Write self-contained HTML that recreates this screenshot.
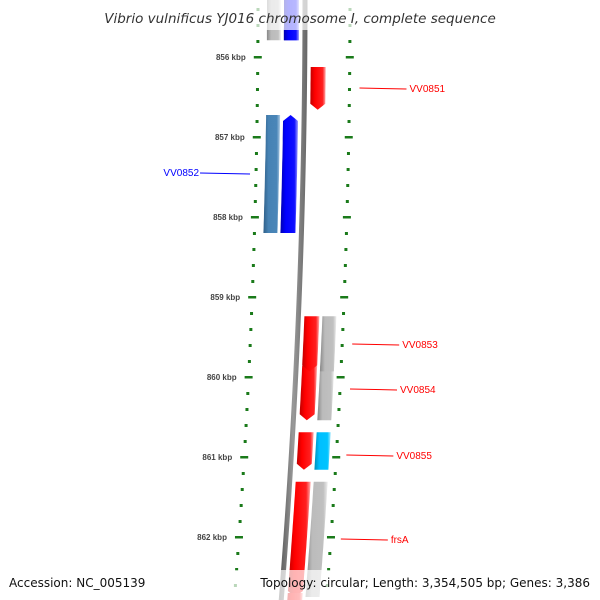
<!DOCTYPE html>
<html><head><meta charset="utf-8"><style>
html,body{margin:0;background:#fff;overflow:hidden;width:600px;height:600px;}
svg{display:block;font-family:"Liberation Sans",sans-serif;overflow:hidden;}
</style></head><body>
<svg id="map" width="600" height="600" viewBox="0 0 600 600">
<defs>
<clipPath id="clip"><rect x="0" y="0" width="600" height="600"/></clipPath>
<linearGradient id="gRed" x1="0" x2="1"><stop offset="0" stop-color="#c00000"/><stop offset="0.3" stop-color="#ff0000"/><stop offset="0.8" stop-color="#ff2020"/><stop offset="1" stop-color="#ffb0b0"/></linearGradient>
<linearGradient id="gBlue" x1="0" x2="1"><stop offset="0" stop-color="#0000b0"/><stop offset="0.3" stop-color="#0000ff"/><stop offset="0.8" stop-color="#1010ff"/><stop offset="1" stop-color="#a0a0ff"/></linearGradient>
<linearGradient id="gSteel" x1="0" x2="1"><stop offset="0" stop-color="#2f5f88"/><stop offset="0.3" stop-color="#4682b4"/><stop offset="0.8" stop-color="#4a86b8"/><stop offset="1" stop-color="#b0cce4"/></linearGradient>
<linearGradient id="gGray" x1="0" x2="1"><stop offset="0" stop-color="#888"/><stop offset="0.3" stop-color="#bbb"/><stop offset="0.8" stop-color="#c0c0c0"/><stop offset="1" stop-color="#eee"/></linearGradient>
<linearGradient id="gCyan" x1="0" x2="1"><stop offset="0" stop-color="#0090b8"/><stop offset="0.3" stop-color="#00bfff"/><stop offset="0.8" stop-color="#00c4ff"/><stop offset="1" stop-color="#a0e8ff"/></linearGradient>
<linearGradient id="gBack" x1="0" x2="1"><stop offset="0" stop-color="#555"/><stop offset="0.5" stop-color="#999"/><stop offset="1" stop-color="#666"/></linearGradient>
</defs>
<g clip-path="url(#clip)">
<g id="features"></g>
<g id="ticks"></g>
<g id="labels"></g>
</g>
<rect x="0" y="0" width="600" height="30" fill="#fff" opacity="0.7"/>
<text x="300" y="23" text-anchor="middle" font-size="13.5" font-style="italic" fill="#333" style="font-family:'DejaVu Sans',sans-serif">Vibrio vulnificus YJ016 chromosome I, complete sequence</text>
<rect x="0" y="570" width="600" height="30" fill="#fff" opacity="0.7"/>
<text x="9" y="587" font-size="12" fill="#111" style="font-family:'DejaVu Sans',sans-serif">Accession: NC_005139</text>
<text x="590" y="587" text-anchor="end" font-size="12" fill="#111" style="font-family:'DejaVu Sans',sans-serif">Topology: circular; Length: 3,354,505 bp; Genes: 3,386</text>
</svg>
<script>
const tickKbp=[856,857,858,859,860,861,862];
const geneNames=["","VV0851","VV0852","VV0854","VV0853","VV0855","frsA","",""];
const geneStart=[855.2,856.125,856.725,859.86,859.24,860.69,861.31,862.7,855.2];
const geneEnd=[855.79,856.66,858.2,860.54,859.93,861.16,862.75,863.0,855.79];
const geneStrand=[-1,1,-1,1,1,1,1,1,-1];
const cogColor=["gGray","","gSteel","gGray","gGray","gCyan","gGray","",""];
const labelY=[0,88,173,389,344,455,539,0,0];
const NS="http://www.w3.org/2000/svg";
function yOf(k){return 57+(k-856)*80;}
function xb(y){return 305-6.6e-5*y*y;}
function mk(tag,attrs,parent){const e=document.createElementNS(NS,tag);for(const a in attrs)e.setAttribute(a,attrs[a]);parent.appendChild(e);return e;}
const F=document.getElementById('features'),T=document.getElementById('ticks'),L=document.getElementById('labels');
let pts=[];for(let y=-10;y<=600;y+=10)pts.push([xb(y)-2.5,y]);for(let y=600;y>=-10;y-=10)pts.push([xb(y)+2.5,y]);
const bb=mk('polygon',{points:pts.map(p=>p.join(',')).join(' '),fill:'url(#gBack)'},F);


function band(y1,y2,o1,o2,fill,arrow,name){
  let p=[],h=6;let a=y1,b=y2;
  if(arrow===1)b=y2-h; if(arrow===-1)a=y1+h;
  if(arrow===-1)p.push([xb(y1)+(o1+o2)/2,y1]);
  for(let y=a;y<b;y+=5)p.push([xb(y)+o2,y]);p.push([xb(b)+o2,b]);
  if(arrow===1)p.push([xb(y2)+(o1+o2)/2,y2]);
  for(let y=b;y>a;y-=5)p.push([xb(y)+o1,y]);p.push([xb(a)+o1,a]);
  const e=mk('polygon',{points:p.map(q=>q[0].toFixed(1)+','+q[1].toFixed(1)).join(' '),fill:'url(#'+fill+')'},F);
  
  
}
for(let i=0;i<geneStart.length;i++){
  const y1=yOf(geneStart[i]),y2=yOf(geneEnd[i]),s=geneStrand[i];
  const nm=(geneNames[i]||'gene-'+i).toLowerCase();
  if(s===1){
    band(y1,y2,6,21,'gRed',1,nm+'-cds');
    if(cogColor[i])band(y1,y2,24,38,cogColor[i],0,nm+'-cog');
  }else{
    band(y1,y2,-21,-6,'gBlue',-1,nm+'-cds');
    if(cogColor[i])band(y1,y2,-38,-24,cogColor[i],0,nm+'-cog');
  }
  if(geneNames[i]&&labelY[i]){
    const ly=labelY[i],col=s===1?'#f00':'#00f';
    if(s===1){
      const x0=xb(ly)+55;
      const ln=mk('line',{x1:x0,y1:ly,x2:x0+47,y2:ly+1,stroke:col,'stroke-width':1},L);
      
      
      const t=mk('text',{x:x0+50,y:ly+4,'font-size':10,fill:col},L);t.textContent=geneNames[i];
      
      
    }else{
      const x0=xb(ly)-53;
      const ln=mk('line',{x1:x0,y1:ly+1,x2:x0-50,y2:ly,stroke:col,'stroke-width':1},L);
      
      
      const t=mk('text',{x:x0-51,y:ly+3,'font-size':10,fill:col,'text-anchor':'end'},L);t.textContent=geneNames[i];
      
      
    }
  }
}
for(let k=855.2;k<=863.0;k+=0.2){
  const y=yOf(k);if(y<-5||y>600)continue;
  const major=Math.abs(k-Math.round(k))<0.01;
  [-47,45].forEach(o=>{
    const x=xb(y)+o;
    const r=mk('rect',{x:major?x-4:x-1.5,y:y-1,width:major?8:3,height:major?2.5:3,fill:'#1a7a1a'},T);
    
    
  });
}
tickKbp.forEach(k=>{
  const y=yOf(k);
  const t=mk('text',{x:xb(y)-59,y:y+3,'font-size':8,'font-weight':'bold',fill:'#444','text-anchor':'end'},T);
  t.textContent=k+' kbp';
  
  
});
</script>
</body></html>
